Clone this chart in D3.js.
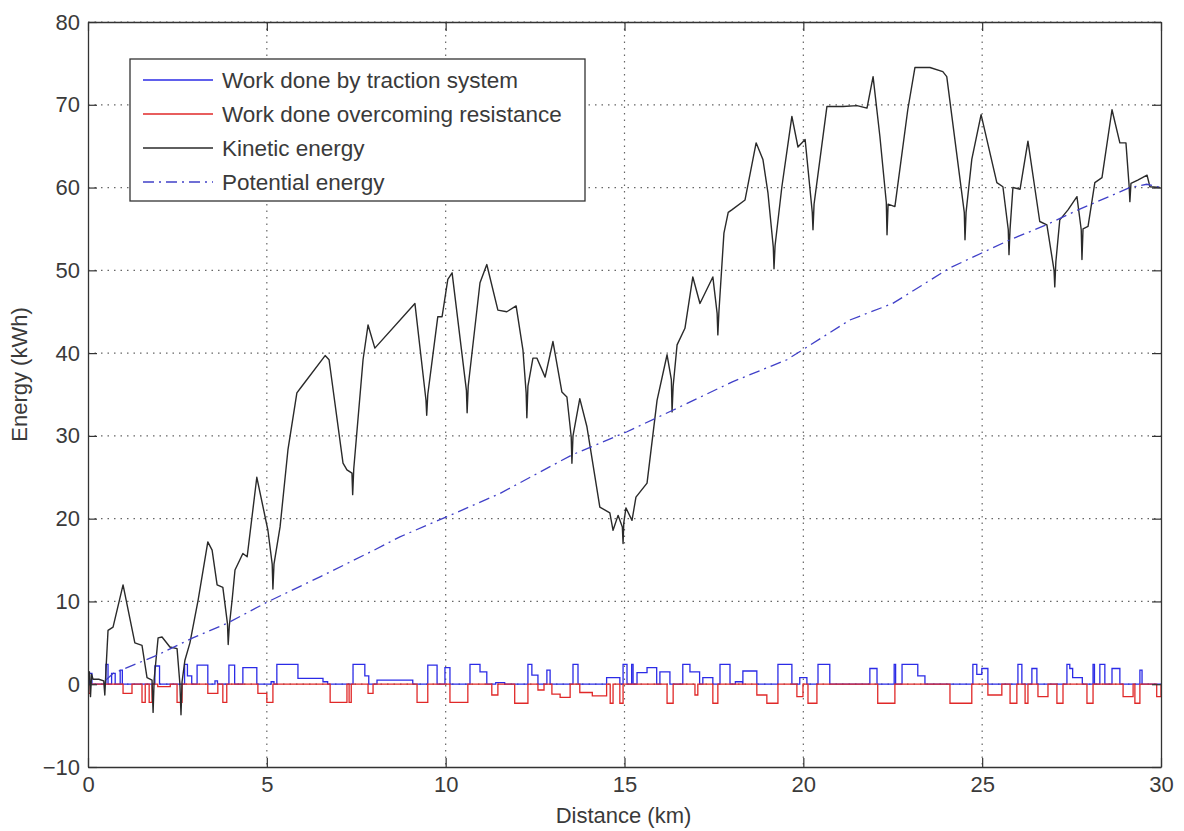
<!DOCTYPE html>
<html>
<head>
<meta charset="utf-8">
<script src="https://cdn.jsdelivr.net/npm/d3@7"></script>
<style>
  body { margin: 0; background: #fff; }
  svg text { font-family: "Liberation Sans", Arial, sans-serif; fill: #3a3a3a; }
</style>
</head>
<body>
<div id="chart"></div>
<script>
// ---- data ----
const X_TICKS = [0, 5, 10, 15, 20, 25, 30];
const Y_TICKS = [-10, 0, 10, 20, 30, 40, 50, 60, 70, 80];

const LEGEND_LABELS = [
  "Work done by traction system",
  "Work done overcoming resistance",
  "Kinetic energy",
  "Potential energy"
];

// [distance km, kWh]
const KINETIC = [
  [0.00, 0.8],[0.04, 1.5],[0.07, -1.5],[0.10, 1.2],[0.14, 0.6],[0.30, 0.6],[0.44, 0.4],[0.47, -1.3],
  [0.50, 1.5],[0.56, 6.5],[0.70, 6.9],[0.98, 12.0],[1.31, 5.0],[1.51, 4.7],[1.65, 0.8],[1.79, 0.5],
  [1.82, -3.4],[1.85, 0.6],[1.96, 5.6],[2.07, 5.7],[2.29, 4.5],[2.49, 4.3],[2.57, 0.0],[2.60, -3.7],
  [2.63, 0.3],[2.71, 2.9],[2.85, 5.0],[3.08, 10.2],[3.35, 17.2],[3.47, 16.2],[3.61, 12.0],[3.77, 11.7],
  [3.90, 7.3],[3.92, 4.8],[3.95, 7.0],[4.03, 10.2],[4.11, 13.8],[4.33, 15.8],[4.45, 15.4],[4.72, 25.0],
  [5.03, 18.6],[5.15, 14.5],[5.17, 11.5],[5.20, 14.5],[5.37, 19.0],[5.59, 28.3],[5.84, 35.2],[5.98, 36.0],
  [6.63, 39.7],[6.74, 39.2],[7.13, 26.7],[7.24, 25.9],[7.38, 25.5],[7.40, 22.9],[7.43, 26.0],[7.69, 39.2],
  [7.83, 43.4],[8.02, 40.6],[9.14, 46.0],[9.45, 34.3],[9.47, 32.5],[9.50, 35.0],[9.78, 44.4],[9.90, 44.4],
  [10.06, 48.9],[10.18, 49.7],[10.58, 35.5],[10.60, 32.8],[10.63, 36.0],[10.96, 48.5],[11.15, 50.7],
  [11.46, 45.2],[11.71, 45.0],[11.97, 45.7],[12.16, 40.4],[12.25, 35.2],[12.27, 32.2],[12.30, 36.0],
  [12.44, 39.4],[12.55, 39.4],[12.78, 37.1],[13.00, 41.4],[13.25, 35.3],[13.39, 34.7],[13.51, 29.9],
  [13.53, 26.7],[13.56, 30.0],[13.75, 34.5],[13.95, 31.1],[14.31, 21.4],[14.59, 20.7],[14.68, 18.6],
  [14.82, 20.4],[14.94, 19.0],[14.96, 17.0],[14.98, 19.5],[15.04, 21.3],[15.21, 19.8],[15.32, 22.6],
  [15.63, 24.3],[15.91, 34.3],[16.19, 39.8],[16.31, 36.8],[16.33, 32.9],[16.36, 36.0],[16.47, 41.0],
  [16.69, 43.0],[16.91, 49.2],[17.11, 46.0],[17.47, 49.2],[17.59, 44.8],[17.61, 42.2],[17.64, 45.0],
  [17.78, 54.5],[17.90, 57.0],[18.00, 57.3],[18.37, 58.5],[18.68, 65.4],[18.87, 63.4],[19.01, 59.4],
  [19.16, 52.8],[19.18, 50.2],[19.21, 53.0],[19.40, 60.1],[19.68, 68.6],[19.85, 64.9],[20.05, 65.8],
  [20.25, 57.0],[20.27, 54.9],[20.30, 58.0],[20.66, 69.8],[21.11, 69.8],[21.50, 69.9],[21.78, 69.6],
  [21.95, 73.4],[22.14, 66.2],[22.32, 58.2],[22.34, 54.3],[22.37, 58.0],[22.56, 57.7],[22.92, 69.4],
  [23.12, 74.5],[23.54, 74.5],[23.90, 74.0],[24.01, 73.4],[24.50, 57.0],[24.52, 53.7],[24.55, 57.0],
  [24.71, 63.4],[24.97, 68.8],[25.41, 60.6],[25.58, 60.1],[25.73, 54.9],[25.75, 51.9],[25.78, 55.0],
  [25.86, 60.0],[26.06, 59.8],[26.28, 65.6],[26.61, 55.9],[26.81, 55.5],[27.01, 50.0],[27.03, 48.0],
  [27.06, 51.0],[27.17, 56.1],[27.40, 57.3],[27.65, 58.9],[27.77, 54.9],[27.79, 51.3],[27.82, 55.0],
  [27.96, 55.3],[28.15, 60.6],[28.35, 61.2],[28.63, 69.4],[28.85, 65.4],[29.02, 65.4],[29.11, 60.1],
  [29.13, 58.3],[29.16, 60.5],[29.35, 60.9],[29.61, 61.5],[29.69, 60.1],[29.97, 60.0]
];

const POTENTIAL = [
  [0.5, 0.5],[0.7, 1.3],[1.93, 3.5],[2.93, 5.6],[3.91, 7.4],[5.0, 9.9],[6.5, 13.0],[8.0, 16.2],
  [8.72, 17.8],[10.12, 20.4],[11.5, 23.0],[13.53, 27.7],[15.07, 30.5],[16.35, 33.1],[18.0, 36.5],
  [19.54, 39.2],[21.3, 44.0],[22.5, 46.0],[24.1, 50.3],[25.78, 53.7],[26.8, 55.5],[27.68, 57.3],
  [29.13, 60.0],[29.6, 60.4],[30.0, 60.0]
];

// [from km, to km, kWh]
const TRACTION = [
  [0.04, 0.11, 1.3],[0.50, 0.56, 2.4],[0.66, 0.76, 1.3],[0.90, 0.96, 1.7],[1.87, 2.00, 2.2],
  [2.70, 2.78, 2.4],[2.78, 2.90, 1.0],[3.05, 3.35, 2.3],[3.55, 3.62, 0.4],[3.94, 4.10, 2.3],
  [4.33, 4.72, 2.0],[5.12, 5.20, 0.3],[5.28, 5.87, 2.4],[5.87, 6.57, 0.7],[6.57, 6.70, 0.3],
  [7.41, 7.74, 2.4],[7.74, 7.85, 1.0],[8.08, 9.08, 0.5],[9.50, 9.76, 2.3],[9.98, 10.12, 2.0],
  [10.68, 10.96, 2.4],[10.96, 11.15, 1.5],[11.40, 11.65, 0.2],[12.30, 12.41, 2.4],[12.41, 12.58, 1.1],
  [12.83, 12.92, 1.7],[13.56, 13.70, 2.4],[14.50, 14.87, 0.8],[14.96, 15.07, 2.4],[15.20, 15.24, 2.4],
  [15.35, 15.63, 1.4],[15.63, 15.90, 2.0],[15.99, 16.27, 1.5],[16.63, 16.83, 2.4],[16.83, 17.10, 1.5],
  [17.19, 17.47, 0.8],[17.67, 17.95, 2.4],[18.10, 18.30, 0.3],[18.31, 18.70, 1.6],[19.29, 19.68, 2.4],
  [19.90, 20.10, 0.8],[20.41, 20.74, 2.4],[21.86, 22.06, 1.9],[22.54, 22.58, 2.4],[22.76, 23.20, 2.4],
  [23.20, 23.40, 1.0],[24.74, 24.85, 2.4],[24.85, 24.99, 1.2],[24.99, 25.16, 1.9],[26.00, 26.11, 2.4],
  [26.39, 26.53, 1.9],[27.37, 27.45, 2.4],[27.45, 27.53, 1.9],[27.53, 27.80, 0.8],[28.10, 28.14, 2.4],
  [28.29, 28.43, 2.4],[28.63, 28.85, 1.9],[29.41, 29.47, 1.7]
];

const RESISTANCE = [
  [0.00, 0.06, -1.1],[0.98, 1.23, -1.1],[1.51, 1.60, -2.2],[1.71, 1.79, -2.2],[1.95, 2.30, -0.3],
  [2.49, 2.63, -2.2],[3.35, 3.63, -1.1],[3.77, 3.88, -2.2],[4.75, 5.00, -1.1],[5.00, 5.17, -2.2],
  [6.77, 7.24, -2.2],[7.30, 7.36, -2.2],[7.83, 7.97, -1.1],[9.20, 9.50, -2.2],[10.12, 10.62, -2.2],
  [11.29, 11.46, -1.3],[11.93, 12.30, -2.3],[12.58, 12.75, -0.7],[12.97, 13.20, -1.2],[13.20, 13.48, -1.6],
  [13.75, 14.10, -1.0],[14.10, 14.50, -1.4],[14.60, 14.68, -2.3],[14.87, 14.96, -2.3],[16.19, 16.36, -2.3],
  [16.97, 17.05, -1.3],[17.47, 17.61, -2.3],[18.70, 18.98, -1.3],[18.98, 19.29, -2.3],[19.82, 19.99, -1.5],
  [20.13, 20.38, -2.3],[22.08, 22.56, -2.3],[24.10, 24.71, -2.3],[25.16, 25.55, -1.3],[25.78, 25.97, -2.3],
  [26.20, 26.28, -2.3],[26.56, 26.84, -1.5],[27.09, 27.26, -2.3],[27.93, 28.10, -2.3],[28.94, 29.22, -1.5],
  [29.27, 29.41, -2.3],[29.88, 30.00, -1.5]
];

// ---- layout ----
const MARGIN = { TOP: 22, RIGHT: 23, BOTTOM: 64, LEFT: 88 };
const WIDTH = 1184 - MARGIN.LEFT - MARGIN.RIGHT;
const HEIGHT = 831 - MARGIN.TOP - MARGIN.BOTTOM;

const SVG = d3.select("#chart").append("svg")
  .attr("width", 1184)
  .attr("height", 831);

const CHART = SVG.append("g")
  .attr("transform", "translate(" + MARGIN.LEFT + "," + MARGIN.TOP + ")");

const X_SCALE = d3.scaleLinear().domain([0, 30]).range([0, WIDTH]);
const Y_SCALE = d3.scaleLinear().domain([-10, 80]).range([HEIGHT, 0]);

// dotted grid
CHART.append("g").selectAll("line")
  .data(X_TICKS.slice(1, -1))
  .join("line")
  .attr("x1", (d) => X_SCALE(d)).attr("x2", (d) => X_SCALE(d))
  .attr("y1", 0).attr("y2", HEIGHT)
  .attr("stroke", "#666").attr("stroke-width", 1.2)
  .attr("stroke-dasharray", "1.5,5");

CHART.append("g").selectAll("line")
  .data(Y_TICKS.slice(1))
  .join("line")
  .attr("x1", 0).attr("x2", WIDTH)
  .attr("y1", (d) => Y_SCALE(d)).attr("y2", (d) => Y_SCALE(d))
  .attr("stroke", "#666").attr("stroke-width", 1.2)
  .attr("stroke-dasharray", "1.5,5");

// step series built from the segments, with 0 between them
function stepPoints(segs) {
  const pts = [[0, 0]];
  let lastX = 0;
  segs.forEach(([a, b, v], i) => {
    if (a > lastX + 0.001) {
      pts.push([a, 0]);
    }
    pts.push([a, v]);
    pts.push([b, v]);
    const next = segs[i + 1];
    if (!next || next[0] > b + 0.001) pts.push([b, 0]);
    lastX = b;
  });
  pts.push([30, 0]);
  return pts;
}

CHART.append("clipPath").attr("id", "clip")
  .append("rect").attr("width", WIDTH).attr("height", HEIGHT);

const LINE = d3.line()
  .x((d) => X_SCALE(d[0]))
  .y((d) => Y_SCALE(d[1]));

const PLOT = CHART.append("g").attr("clip-path", "url(#clip)");

PLOT.append("path")
  .datum(stepPoints(TRACTION))
  .attr("d", LINE)
  .attr("fill", "none").attr("stroke", "#2b2be6").attr("stroke-width", 1.3);

PLOT.append("path")
  .datum(stepPoints(RESISTANCE))
  .attr("d", LINE)
  .attr("fill", "none").attr("stroke", "#e02828").attr("stroke-width", 1.3);

PLOT.append("path")
  .datum(KINETIC)
  .attr("d", LINE)
  .attr("fill", "none").attr("stroke", "#2a2a2a").attr("stroke-width", 1.4)
  .attr("stroke-linejoin", "round");

PLOT.append("path")
  .datum(POTENTIAL)
  .attr("d", LINE)
  .attr("fill", "none").attr("stroke", "#4040c8").attr("stroke-width", 1.3)
  .attr("stroke-dasharray", "11,5,2,5");

// axes with inward ticks on all four sides
const AXIS_LEFT = d3.axisLeft(Y_SCALE).tickValues(Y_TICKS).tickSize(-9).tickSizeOuter(0).tickPadding(8);
const AXIS_BOTTOM = d3.axisBottom(X_SCALE).tickValues(X_TICKS).tickSize(-9).tickSizeOuter(0).tickPadding(9);
const AXIS_RIGHT = d3.axisRight(Y_SCALE).tickValues(Y_TICKS).tickSize(-9).tickSizeOuter(0).tickFormat("");
const AXIS_TOP = d3.axisTop(X_SCALE).tickValues(X_TICKS).tickSize(-9).tickSizeOuter(0).tickFormat("");

function styleAxis(g) {
  g.select(".domain").attr("stroke", "#333").attr("stroke-width", 1.3);
  g.selectAll(".tick line").attr("stroke", "#333").attr("stroke-width", 1.2);
  g.selectAll(".tick text").style("font-size", "22px").attr("fill", "#3a3a3a");
}

CHART.append("g").call(AXIS_LEFT).call(styleAxis);
CHART.append("g").attr("transform", "translate(0," + HEIGHT + ")").call(AXIS_BOTTOM).call(styleAxis);
CHART.append("g").attr("transform", "translate(" + WIDTH + ",0)").call(AXIS_RIGHT).call(styleAxis);
CHART.append("g").call(AXIS_TOP).call(styleAxis);

// axis titles
CHART.append("text")
  .attr("x", WIDTH / 2 - 1)
  .attr("y", HEIGHT + 56)
  .attr("text-anchor", "middle")
  .style("font-size", "22px")
  .text("Distance (km)");

CHART.append("text")
  .attr("transform", "rotate(-90)")
  .attr("x", -(HEIGHT / 2) + 20)
  .attr("y", -61)
  .attr("text-anchor", "middle")
  .style("font-size", "22px")
  .text("Energy (kWh)");

// legend
const LEGEND = SVG.append("g").attr("transform", "translate(130,59)");
LEGEND.append("rect")
  .attr("width", 455).attr("height", 142)
  .attr("fill", "#fff").attr("stroke", "#333").attr("stroke-width", 1.3);

const LEGEND_STYLE = [
  { color: "#2b2be6", dash: null },
  { color: "#e02828", dash: null },
  { color: "#2a2a2a", dash: null },
  { color: "#4040c8", dash: "11,5,2,5" }
];

const ITEM = LEGEND.selectAll(".legend-item")
  .data(LEGEND_LABELS)
  .join("g")
  .attr("class", "legend-item")
  .attr("transform", (d, i) => "translate(0," + (21 + i * 34) + ")");

ITEM.append("line")
  .attr("x1", 13).attr("x2", 83)
  .attr("stroke", (d, i) => LEGEND_STYLE[i].color)
  .attr("stroke-width", 1.3)
  .attr("stroke-dasharray", (d, i) => LEGEND_STYLE[i].dash);

ITEM.append("text")
  .attr("x", 92)
  .attr("dy", "0.35em")
  .style("font-size", "22.5px")
  .text((d) => d);
</script>
</body>
</html>
